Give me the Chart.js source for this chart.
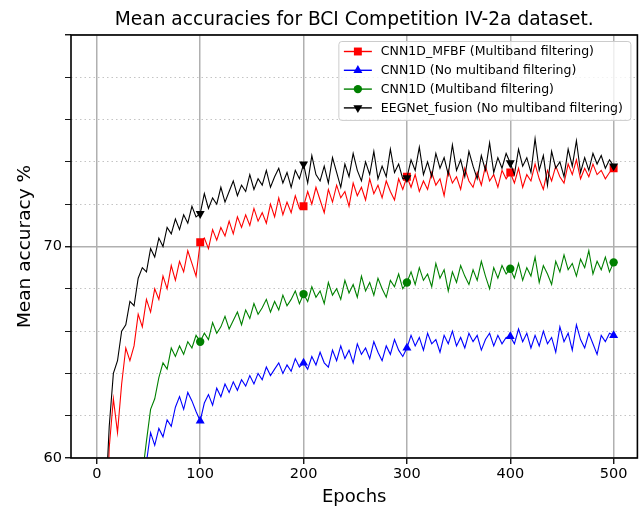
<!DOCTYPE html>
<html>
<head>
<meta charset="utf-8">
<script src="https://cdn.jsdelivr.net/npm/chart.js@4.4.1/dist/chart.umd.min.js"></script>
<style>
  html, body { margin: 0; padding: 0; background: #fff; }
</style>
</head>
<body>
<canvas id="chart" width="643" height="509"></canvas>
<script>
const TITLE = 'Mean accuracies for BCI Competition IV-2a dataset.';
const X_LABEL = 'Epochs';
const Y_LABEL = 'Mean accuracy %';

const EPOCHS = [0, 4, 8, 12, 16, 20, 24, 28, 32, 36, 40, 44, 48, 52, 56, 60, 64, 68, 72, 76, 80, 84, 88, 92, 96,
  100, 104, 108, 112, 116, 120, 124, 128, 132, 136, 140, 144, 148, 152, 156, 160, 164, 168, 172, 176, 180, 184, 188, 192, 196,
  200, 204, 208, 212, 216, 220, 224, 228, 232, 236, 240, 244, 248, 252, 256, 260, 264, 268, 272, 276, 280, 284, 288, 292, 296,
  300, 304, 308, 312, 316, 320, 324, 328, 332, 336, 340, 344, 348, 352, 356, 360, 364, 368, 372, 376, 380, 384, 388, 392, 396,
  400, 404, 408, 412, 416, 420, 424, 428, 432, 436, 440, 444, 448, 452, 456, 460, 464, 468, 472, 476, 480, 484, 488, 492, 496,
  500];

const X_TICKS = [0, 100, 200, 300, 400, 500];
const Y_TICKS = [60, 62, 64, 66, 68, 70, 72, 74, 76, 78, 80];
const Y_TICK_LABELS = [60, 70];
const MARKER_EPOCHS = [100, 200, 300, 400, 500];

const LABELS = [
  'CNN1D_MFBF (Multiband filtering)',
  'CNN1D (No multiband filtering)',
  'CNN1D (Multiband filtering)',
  'EEGNet_fusion (No multiband filtering)'
];

const MFBF = [46, 50, 55, 60.5, 62.8, 61.2, 63.5, 65.2, 64.6, 65.3, 66.8, 66.2, 67.5, 66.9, 68.0, 67.5, 68.6, 68.0, 69.1, 68.4, 69.3, 68.8, 69.8, 69.2, 68.6,
  70.2, 70.4, 69.9, 70.8, 70.3, 70.9, 70.5, 71.2, 70.6, 71.4, 70.9, 71.5, 71.0, 71.8, 71.2, 71.6, 71.1, 72.0, 71.4, 72.3, 71.5, 72.1, 71.6, 72.4, 71.8,
  71.9, 72.6, 72.0, 72.8, 72.2, 71.6, 72.7, 72.1, 72.9, 72.3, 72.6, 71.9, 73.0, 72.4, 72.8, 72.2, 73.2, 72.5, 72.9, 72.3, 73.1, 72.6, 72.2, 73.2, 72.7,
  73.3, 72.8, 73.4, 72.6, 73.1, 72.7, 73.5, 72.9, 73.2, 72.4, 73.6, 73.0, 73.3, 72.7, 73.7, 73.1, 72.8, 73.5, 72.9, 73.8, 73.1, 73.4, 72.8, 73.6, 73.2,
  73.5, 73.0, 73.7, 72.8, 73.4, 73.1, 73.9, 73.2, 72.7, 73.6, 73.1, 73.8, 73.3, 73.0, 73.9, 73.4, 74.1, 73.2, 73.7, 73.3, 73.9, 73.4, 73.6, 73.2, 73.5,
  73.7];

const CNN_NO_MB = [38, 40, 42, 44, 46, 48, 50, 52, 54, 55.5, 57, 58.5, 59.8, 61.2, 60.6, 61.4, 61.0, 61.8, 61.5, 62.4, 62.9, 62.3, 63.1, 62.7, 62.2,
  61.75, 62.6, 63.0, 62.5, 63.3, 62.9, 63.5, 63.1, 63.6, 63.2, 63.7, 63.4, 63.9, 63.5, 64.0, 63.7, 64.3, 63.9, 64.2, 64.5, 64.0, 64.4, 64.1, 64.7, 64.3,
  64.5, 64.2, 64.8, 64.4, 65.0, 64.5, 64.3, 65.1, 64.6, 65.3, 64.7, 65.1, 64.5, 65.4, 64.9, 65.2, 64.7, 65.5, 65.0, 64.6, 65.3, 64.9, 65.6, 65.1, 64.8,
  65.2, 65.8, 65.3, 65.7, 65.1, 65.9, 65.4, 65.6, 65.0, 65.8, 65.4, 66.0, 65.3, 65.7, 65.2, 65.9, 65.5, 65.8, 65.1, 65.6, 65.9, 65.3, 65.8, 65.4, 65.7,
  65.75, 65.4, 66.1, 65.5, 65.9, 65.2, 65.8, 65.3, 66.0, 65.4, 65.7, 65.0, 66.2, 65.5, 65.9, 65.1, 66.3, 65.6, 65.2, 65.9, 65.4, 64.9, 65.8, 65.5, 65.9,
  65.8];

const CNN_MB = [44, 46, 48, 50, 51.5, 53, 54.5, 55.5, 56.5, 57.5, 58.2, 59.2, 60.8, 62.3, 62.8, 63.8, 64.5, 64.2, 65.2, 64.8, 65.3, 64.9, 65.5, 65.2, 65.8,
  65.5, 65.9, 65.6, 66.4, 65.9, 66.2, 66.7, 66.1, 66.5, 66.9, 66.3, 67.0, 66.6, 67.3, 66.8, 67.1, 67.5, 66.9, 67.4, 67.0, 67.7, 67.2, 67.5, 67.9, 67.3,
  67.75, 67.4, 68.1, 67.6, 67.9, 67.3, 68.3, 67.7, 68.0, 67.5, 68.4, 67.8, 68.2, 67.6, 68.6, 67.9, 68.3, 67.7, 68.5, 68.0, 67.6, 68.4, 68.1, 68.7, 68.0,
  68.3, 68.8, 68.2, 69.0, 68.4, 68.7, 68.1, 69.2, 68.5, 68.9, 67.9, 68.8, 68.3, 69.1, 68.6, 68.2, 68.9, 68.4, 69.3, 68.6, 68.0, 69.0, 68.5, 69.1, 68.7,
  68.95, 68.5, 69.2, 68.4, 69.0, 68.6, 69.5, 68.3, 69.1, 68.7, 68.2, 69.3, 68.8, 69.6, 68.9, 69.2, 68.6, 69.4, 69.0, 69.8, 68.7, 69.3, 68.9, 69.5, 68.8,
  69.25];

const EEGNET = [48, 52, 57.5, 61.5, 64.0, 64.6, 66.0, 66.3, 67.4, 67.2, 68.5, 69.0, 68.8, 69.9, 69.5, 70.4, 70.0, 70.9, 70.6, 71.3, 70.8, 71.5, 71.1, 71.9, 71.4,
  71.55, 72.5, 71.8, 72.3, 72.0, 72.8, 72.1, 72.6, 73.1, 72.4, 72.9, 72.6, 73.4, 72.7, 73.2, 72.9, 73.6, 72.8, 73.3, 73.7, 73.0, 73.5, 72.8, 73.6, 73.2,
  73.9, 73.0, 74.3, 73.4, 73.1, 73.8, 73.0, 74.2, 73.5, 72.8, 73.9, 73.3, 74.4, 73.6, 73.1, 74.0, 73.4, 74.5, 73.2, 73.8, 73.3, 74.6, 73.5, 73.9, 73.2,
  73.25, 74.1, 73.6, 74.7, 73.4, 74.0, 73.3, 74.4, 73.7, 74.2, 73.4, 74.8, 73.6, 74.1, 73.3, 74.5, 73.8, 73.2, 74.3, 73.6, 74.9, 73.5, 74.2, 73.7, 74.4,
  73.95, 73.4, 74.6, 73.8, 74.2, 73.5, 75.1, 73.6, 74.3, 72.9, 74.5, 73.7, 74.0, 73.3, 74.6, 73.8, 75.0, 73.5, 74.2, 73.6, 74.4, 73.9, 74.3, 73.7, 74.1,
  73.8];

const SERIES = [MFBF, CNN_NO_MB, CNN_MB, EEGNET];
const COLORS = ['#ff0000', '#0000ff', '#008000', '#000000'];
const MARKERS = [
  { style: 'rect', radius: 5.6, rotation: 0 },
  { style: 'triangle', radius: 5.2, rotation: 0 },
  { style: 'circle', radius: 4.2, rotation: 0 },
  { style: 'triangle', radius: 5.2, rotation: 180 }
];

const FONT = '"DejaVu Sans", sans-serif';

function drawMarker(ctx, m, color, x, y) {
  ctx.save();
  ctx.fillStyle = color;
  ctx.beginPath();
  if (m.style === 'rect') {
    const s = m.radius * Math.SQRT1_2;
    ctx.rect(x - s, y - s, 2 * s, 2 * s);
  } else if (m.style === 'circle') {
    ctx.arc(x, y, m.radius, 0, Math.PI * 2);
  } else {
    const r = m.radius;
    const dir = m.rotation === 180 ? -1 : 1;
    ctx.moveTo(x, y - dir * r);
    ctx.lineTo(x - r * 0.866, y + dir * r * 0.5);
    ctx.lineTo(x + r * 0.866, y + dir * r * 0.5);
    ctx.closePath();
  }
  ctx.fill();
  ctx.restore();
}

const decorPlugin = {
  id: 'decor',
  afterDraw(chart) {
    const ctx = chart.ctx;
    const ca = chart.chartArea;

    // cadre
    ctx.save();
    ctx.strokeStyle = '#000';
    ctx.lineWidth = 1.6;
    ctx.strokeRect(ca.left, ca.top, ca.right - ca.left, ca.bottom - ca.top);
    ctx.restore();

    // titre
    ctx.save();
    ctx.fillStyle = '#000';
    ctx.font = '18.6px ' + FONT;
    ctx.textAlign = 'center';
    ctx.textBaseline = 'middle';
    ctx.fillText(TITLE, (ca.left + ca.right) / 2, 20);
    ctx.restore();

    // légende
    ctx.save();
    ctx.font = '12.5px ' + FONT;
    let tw = 0;
    LABELS.forEach(l => { tw = Math.max(tw, ctx.measureText(l).width); });
    const rowH = 18.8;
    const w = 5 + 28 + 9 + tw + 8;
    const h = 10 + rowH * (LABELS.length - 1) + 12.5;
    const bx = ca.right - 6.5 - w;
    const by = ca.top + 6.5;
    ctx.fillStyle = 'rgba(255,255,255,0.8)';
    ctx.strokeStyle = '#cccccc';
    ctx.lineWidth = 1;
    ctx.beginPath();
    if (ctx.roundRect) ctx.roundRect(bx, by, w, h, 3); else ctx.rect(bx, by, w, h);
    ctx.fill();
    ctx.stroke();
    LABELS.forEach((l, i) => {
      const y = by + 10 + i * rowH;
      const x0 = bx + 5;
      ctx.strokeStyle = COLORS[i];
      ctx.lineWidth = 1.4;
      ctx.beginPath();
      ctx.moveTo(x0, y);
      ctx.lineTo(x0 + 28, y);
      ctx.stroke();
      drawMarker(ctx, MARKERS[i], COLORS[i], x0 + 14, y);
      ctx.fillStyle = '#000';
      ctx.textAlign = 'left';
      ctx.textBaseline = 'middle';
      ctx.fillText(l, x0 + 37, y + 0.5);
    });
    ctx.restore();
  }
};

const datasets = SERIES.map((vals, i) => ({
  label: LABELS[i],
  data: vals.map((v, j) => ({ x: EPOCHS[j], y: v })),
  borderColor: COLORS[i],
  backgroundColor: COLORS[i],
  borderWidth: 1.1,
  tension: 0,
  fill: false,
  order: SERIES.length - i,
  pointStyle: MARKERS[i].style,
  pointRotation: MARKERS[i].rotation,
  pointBackgroundColor: COLORS[i],
  pointBorderColor: COLORS[i],
  pointBorderWidth: 0,
  pointRadius: (c) => MARKER_EPOCHS.includes(EPOCHS[c.dataIndex]) ? MARKERS[i].radius : 0,
  pointHoverRadius: 0
}));

new Chart(document.getElementById('chart').getContext('2d'), {
  type: 'line',
  data: { datasets: datasets },
  options: {
    responsive: false,
    animation: false,
    devicePixelRatio: 1,
    events: [],
    layout: { padding: { top: 35, right: 5, left: 0, bottom: 0 } },
    plugins: {
      legend: { display: false },
      tooltip: { enabled: false },
      title: { display: false }
    },
    scales: {
      x: {
        type: 'linear',
        min: -25,
        max: 523,
        afterBuildTicks: (s) => { s.ticks = X_TICKS.map(v => ({ value: v })); },
        afterFit: (s) => { s.height = 51; },
        ticks: {
          color: '#000',
          font: { family: FONT, size: 14.5 },
          padding: 2,
          maxRotation: 0,
          autoSkip: false,
          callback: (v) => String(v)
        },
        grid: {
          color: '#b0b0b0',
          lineWidth: 1.5,
          tickColor: '#000',
          tickLength: 6,
          tickWidth: 1.3
        },
        border: { display: false },
        title: {
          display: true,
          text: X_LABEL,
          color: '#000',
          font: { family: FONT, size: 18 },
          padding: { top: 0, bottom: 1 }
        }
      },
      y: {
        type: 'linear',
        min: 60,
        max: 80,
        afterBuildTicks: (s) => { s.ticks = Y_TICKS.map(v => ({ value: v })); },
        afterFit: (s) => { s.width = 71; },
        ticks: {
          color: '#000',
          font: { family: FONT, size: 14.5 },
          padding: 3,
          autoSkip: false,
          callback: (v) => Y_TICK_LABELS.includes(v) ? String(v) : ''
        },
        grid: {
          color: (c) => (c.tick && c.tick.value % 10 === 0) ? '#b0b0b0' : '#c4c4c4',
          lineWidth: (c) => (c.tick && c.tick.value % 10 === 0) ? 1.5 : 1,
          tickColor: '#000',
          tickLength: 6,
          tickWidth: (c) => (c.tick && c.tick.value % 10 === 0) ? 1.3 : 0.9
        },
        border: {
          display: false,
          dash: (c) => (c.tick && c.tick.value % 10 !== 0) ? [1.5, 3] : []
        },
        title: {
          display: true,
          text: Y_LABEL,
          color: '#000',
          font: { family: FONT, size: 18.5 },
          padding: { top: 14, bottom: 0 }
        }
      }
    }
  },
  plugins: [decorPlugin]
});
</script>
</body>
</html>
